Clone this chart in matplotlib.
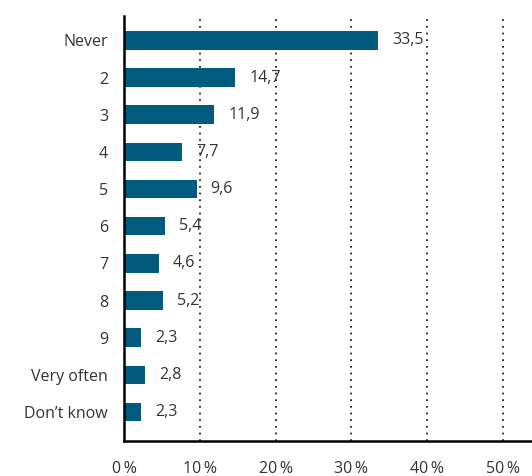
import matplotlib.pyplot as plt

categories = ['Never', '2', '3', '4', '5', '6', '7', '8', '9', 'Very often', 'Don\u2019t know']
values = [33.5, 14.7, 11.9, 7.7, 9.6, 5.4, 4.6, 5.2, 2.3, 2.8, 2.3]
xticks = [0, 10, 20, 30, 40, 50]

plt.rcParams['font.family'] = ['Open Sans', 'DejaVu Sans']
text_color = '#333333'
fs = 11.5

fig = plt.figure(figsize=(5.32, 4.76), dpi=100)
ax = fig.add_axes([0.233, 0.0735, 0.767, 0.8925])

pos = list(range(len(categories)))
ax.barh(pos, values, height=0.5, color='#005B7F')
for p, v in zip(pos, values):
    ax.annotate(f'{v:.1f}'.replace('.', ','), (v, p), xytext=(10, 0),
                textcoords='offset points', va='center', ha='left',
                fontsize=fs, color=text_color)

ax.set_xlim(0, 53.8)
ax.set_ylim(len(categories) - 1 + 0.78, -0.65)
ax.set_yticks(pos)
ax.set_yticklabels(categories, fontsize=fs, color=text_color)
ax.set_xticks(xticks)
ax.set_xticklabels([f'{t}\u2009%' for t in xticks], fontsize=fs, color=text_color)
ax.tick_params(axis='both', length=0)
ax.tick_params(axis='y', pad=11.5)
ax.tick_params(axis='x', pad=14.5)

for t in xticks[1:]:
    ax.axvline(t, color='black', linestyle=(0, (1, 3)), linewidth=1.2, zorder=0)

for s in ['top', 'right']:
    ax.spines[s].set_visible(False)
for s in ['left', 'bottom']:
    ax.spines[s].set_linewidth(1.8)
    ax.spines[s].set_color('black')

fig.savefig('out.png', dpi=100)
